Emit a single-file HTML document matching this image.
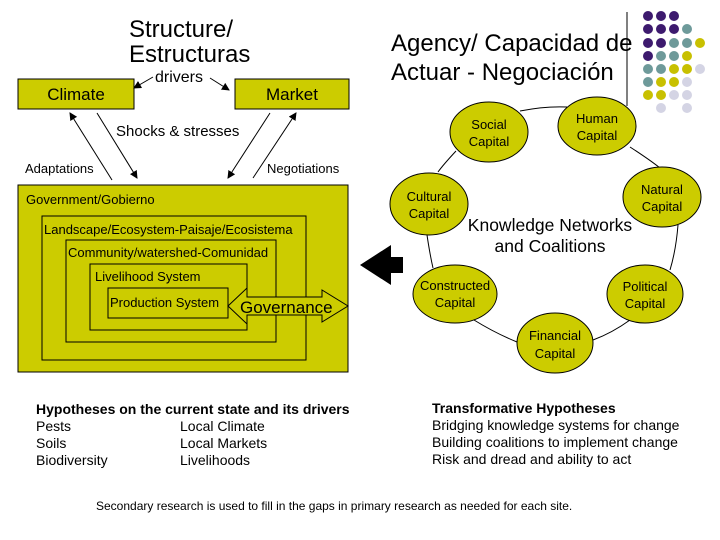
<!DOCTYPE html>
<html><head><meta charset="utf-8"><style>
html,body{margin:0;padding:0;background:#fff;}
svg{display:block;font-family:"Liberation Sans",sans-serif;}
</style></head><body>
<svg width="720" height="540" viewBox="0 0 720 540" xmlns="http://www.w3.org/2000/svg">
<defs>
<marker id="ah" markerWidth="8" markerHeight="8" refX="7" refY="4" orient="auto" markerUnits="userSpaceOnUse">
<path d="M0,0 L8,4 L0,8 Z" fill="#000"/></marker>
</defs>
<text x="129" y="37" font-size="24">Structure/</text>
<text x="129" y="62" font-size="24">Estructuras</text>
<text x="155" y="82" font-size="16">drivers</text>
<rect x="18" y="79" width="116" height="30" fill="#cccc00" stroke="#000"/>
<text x="76" y="100" font-size="17" text-anchor="middle">Climate</text>
<rect x="235" y="79" width="114" height="30" fill="#cccc00" stroke="#000"/>
<text x="292" y="100" font-size="17" text-anchor="middle">Market</text>
<line x1="153" y1="77" x2="134" y2="88" stroke="#000" marker-end="url(#ah)"/>
<line x1="210" y1="78" x2="229" y2="90" stroke="#000" marker-end="url(#ah)"/>
<line x1="112" y1="180" x2="70" y2="113" stroke="#000" marker-end="url(#ah)"/>
<line x1="97" y1="113" x2="137" y2="178" stroke="#000" marker-end="url(#ah)"/>
<line x1="270" y1="113" x2="228" y2="178" stroke="#000" marker-end="url(#ah)"/>
<line x1="253" y1="178" x2="296" y2="113" stroke="#000" marker-end="url(#ah)"/>
<text x="116" y="136" font-size="15">Shocks &amp; stresses</text>
<text x="25" y="173" font-size="13">Adaptations</text>
<text x="267" y="173" font-size="13">Negotiations</text>
<rect x="18" y="185" width="330" height="187" fill="#cccc00" stroke="#000"/>
<text x="26" y="204" font-size="13">Government/Gobierno</text>
<rect x="42" y="216" width="264" height="144" fill="none" stroke="#000"/>
<text x="44" y="234" font-size="13">Landscape/Ecosystem-Paisaje/Ecosistema</text>
<rect x="66" y="240" width="210" height="102" fill="none" stroke="#000"/>
<text x="68" y="257" font-size="13">Community/watershed-Comunidad</text>
<rect x="90" y="264" width="157" height="66" fill="none" stroke="#000"/>
<text x="95" y="281" font-size="13">Livelihood System</text>
<rect x="108" y="288" width="120" height="30" fill="none" stroke="#000"/>
<text x="110" y="307" font-size="13">Production System</text>
<path d="M228,306 L247,288 L247,297 L322,297 L322,290 L348,306 L322,322 L322,315 L247,315 L247,324 Z" fill="#cccc00" stroke="#000"/>
<text x="240" y="313" font-size="17">Governance</text>
<path d="M360,265 L391,245 L391,257 L403,257 L403,273 L391,273 L391,285 Z" fill="#000"/>
<text x="391" y="51" font-size="24">Agency/ Capacidad de</text>
<text x="391" y="80" font-size="24">Actuar - Negociación</text>
<line x1="627" y1="12" x2="627" y2="106" stroke="#000"/>
<g>
<circle cx="648" cy="16" r="5" fill="#3d1a6e"/><circle cx="661" cy="16" r="5" fill="#3d1a6e"/><circle cx="674" cy="16" r="5" fill="#3d1a6e"/>
<circle cx="648" cy="29" r="5" fill="#3d1a6e"/><circle cx="661" cy="29" r="5" fill="#3d1a6e"/><circle cx="674" cy="29" r="5" fill="#3d1a6e"/><circle cx="687" cy="29" r="5" fill="#6e9a9a"/>
<circle cx="648" cy="43" r="5" fill="#3d1a6e"/><circle cx="661" cy="43" r="5" fill="#3d1a6e"/><circle cx="674" cy="43" r="5" fill="#6e9a9a"/><circle cx="687" cy="43" r="5" fill="#6e9a9a"/><circle cx="700" cy="43" r="5" fill="#c8c000"/>
<circle cx="648" cy="56" r="5" fill="#3d1a6e"/><circle cx="661" cy="56" r="5" fill="#6e9a9a"/><circle cx="674" cy="56" r="5" fill="#6e9a9a"/><circle cx="687" cy="56" r="5" fill="#c8c000"/>
<circle cx="648" cy="69" r="5" fill="#6e9a9a"/><circle cx="661" cy="69" r="5" fill="#6e9a9a"/><circle cx="674" cy="69" r="5" fill="#c8c000"/><circle cx="687" cy="69" r="5" fill="#c8c000"/><circle cx="700" cy="69" r="5" fill="#d4d4e4"/>
<circle cx="648" cy="82" r="5" fill="#6e9a9a"/><circle cx="661" cy="82" r="5" fill="#c8c000"/><circle cx="674" cy="82" r="5" fill="#c8c000"/><circle cx="687" cy="82" r="5" fill="#d4d4e4"/>
<circle cx="648" cy="95" r="5" fill="#c8c000"/><circle cx="661" cy="95" r="5" fill="#c8c000"/><circle cx="674" cy="95" r="5" fill="#d4d4e4"/><circle cx="687" cy="95" r="5" fill="#d4d4e4"/>
<circle cx="661" cy="108" r="5" fill="#d4d4e4"/><circle cx="687" cy="108" r="5" fill="#d4d4e4"/>
</g>
<g fill="none" stroke="#000" stroke-width="1">
<path d="M520,111 Q545,106 567,107"/>
<path d="M456,151 Q443,165 438,172"/>
<path d="M630,147 Q650,160 660,168"/>
<path d="M427,235 Q430,255 433,268"/>
<path d="M678,225 Q676,250 670,270"/>
<path d="M474,320 Q495,333 517,342"/>
<path d="M630,320 Q612,333 593,340"/>
</g>
<g fill="#cccc00" stroke="#000">
<ellipse cx="489" cy="132" rx="39" ry="30"/>
<ellipse cx="597" cy="126" rx="39" ry="29"/>
<ellipse cx="429" cy="204" rx="39" ry="31"/>
<ellipse cx="662" cy="197" rx="39" ry="30"/>
<ellipse cx="455" cy="294" rx="42" ry="29"/>
<ellipse cx="645" cy="294" rx="38" ry="29"/>
<ellipse cx="555" cy="343" rx="38" ry="30"/>
</g>
<g font-size="13" text-anchor="middle">
<text x="489" y="129">Social</text><text x="489" y="146">Capital</text>
<text x="597" y="123">Human</text><text x="597" y="140">Capital</text>
<text x="429" y="201">Cultural</text><text x="429" y="218">Capital</text>
<text x="662" y="194">Natural</text><text x="662" y="211">Capital</text>
<text x="455" y="290">Constructed</text><text x="455" y="307">Capital</text>
<text x="645" y="291">Political</text><text x="645" y="308">Capital</text>
<text x="555" y="340">Financial</text><text x="555" y="358">Capital</text>
</g>
<text x="550" y="231" font-size="17.5" text-anchor="middle">Knowledge Networks</text>
<text x="550" y="252" font-size="17.5" text-anchor="middle">and Coalitions</text>
<g font-size="14">
<text x="36" y="414" font-weight="bold">Hypotheses on the current state and its drivers</text>
<text x="36" y="431">Pests</text><text x="180" y="431">Local Climate</text>
<text x="36" y="448">Soils</text><text x="180" y="448">Local Markets</text>
<text x="36" y="465">Biodiversity</text><text x="180" y="465">Livelihoods</text>
<text x="432" y="413" font-weight="bold">Transformative Hypotheses</text>
<text x="432" y="430">Bridging knowledge systems for change</text>
<text x="432" y="447">Building coalitions to implement change</text>
<text x="432" y="464">Risk and dread and ability to act</text>
</g>
<text x="96" y="510" font-size="12">Secondary research is used to fill in the gaps in primary research as needed for each site.</text>
</svg>
</body></html>
